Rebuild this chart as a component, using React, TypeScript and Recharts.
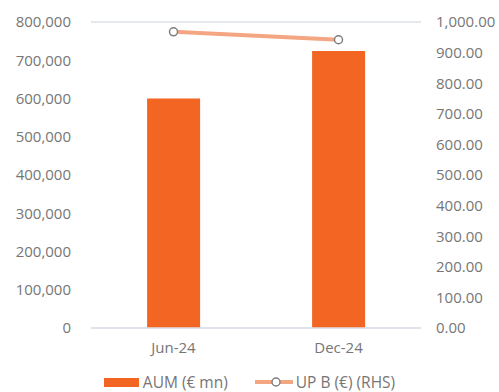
import { ComposedChart, Bar, Line, XAxis, YAxis, CartesianGrid } from "recharts"

const periods = ["Jun-24", "Dec-24"]
const aum = [600000, 724000]
const upB = [968, 942]
const aumTicks = [0, 100000, 200000, 300000, 400000, 500000, 600000, 700000, 800000]
const upTicks = [0, 100, 200, 300, 400, 500, 600, 700, 800, 900, 1000]

const data = periods.map((period, i) => ({ period, aum: aum[i], upB: upB[i] }))

const textColor = "#767676"
const font = "'Open Sans', sans-serif"

function ChartLegend() {
  return (
    <div
      style={{
        position: "absolute",
        left: 0,
        top: 371,
        width: 499,
        display: "flex",
        justifyContent: "center",
        alignItems: "center",
        fontFamily: font,
        fontSize: 15.5,
        color: textColor,
      }}
    >
      <span style={{ display: "inline-block", width: 35, height: 9, background: "#f26522", marginRight: 4 }} />
      <span style={{ marginRight: 27 }}>AUM (€ mn)</span>
      <svg width={38} height={12} style={{ marginRight: 3 }}>
        <line x1={0} y1={6} x2={38} y2={6} stroke="#f4a582" strokeWidth={4} />
        <circle cx={21} cy={6} r={4} fill="#fff" stroke="#7f7f7f" strokeWidth={1.5} />
      </svg>
      <span>UP B (€) (RHS)</span>
    </div>
  )
}

export default function App() {
  return (
    <div style={{ position: "absolute", left: 0, top: 0, width: 499, height: 392, background: "#fff" }}>
      <ComposedChart
        width={499}
        height={392}
        data={data}
        margin={{ top: 22, right: 0, bottom: 34, left: 0 }}
        barCategoryGap="34%"
      >
        <CartesianGrid vertical={false} stroke="#dde1ea" strokeWidth={1.5} />
        <XAxis
          dataKey="period"
          axisLine={{ stroke: "#dde1ea", strokeWidth: 1.5 }}
          tickLine={false}
          tickSize={0}
          tickMargin={14}
          height={30}
          tick={{ fill: textColor, fontSize: 15, fontFamily: font }}
        />
        <YAxis
          yAxisId="left"
          domain={[0, 800000]}
          ticks={aumTicks}
          axisLine={false}
          tickLine={false}
          tickSize={0}
          tickMargin={20}
          width={91}
          tickFormatter={(v: number) => v.toLocaleString("en-US")}
          tick={{ fill: textColor, fontSize: 15, fontFamily: font }}
        />
        <YAxis
          yAxisId="right"
          orientation="right"
          domain={[0, 1000]}
          ticks={upTicks}
          axisLine={false}
          tickLine={false}
          tickSize={0}
          tickMargin={15}
          width={78}
          tickFormatter={(v: number) =>
            v.toLocaleString("en-US", { minimumFractionDigits: 2, maximumFractionDigits: 2 })
          }
          tick={{ fill: textColor, fontSize: 15, fontFamily: font }}
        />
        <Bar yAxisId="left" dataKey="aum" fill="#f26522" isAnimationActive={false} />
        <Line
          yAxisId="right"
          dataKey="upB"
          stroke="#f4a582"
          strokeWidth={4}
          dot={{ r: 4, fill: "#fff", stroke: "#7f7f7f", strokeWidth: 1.5 }}
          isAnimationActive={false}
        />
      </ComposedChart>
      <ChartLegend />
    </div>
  )
}
